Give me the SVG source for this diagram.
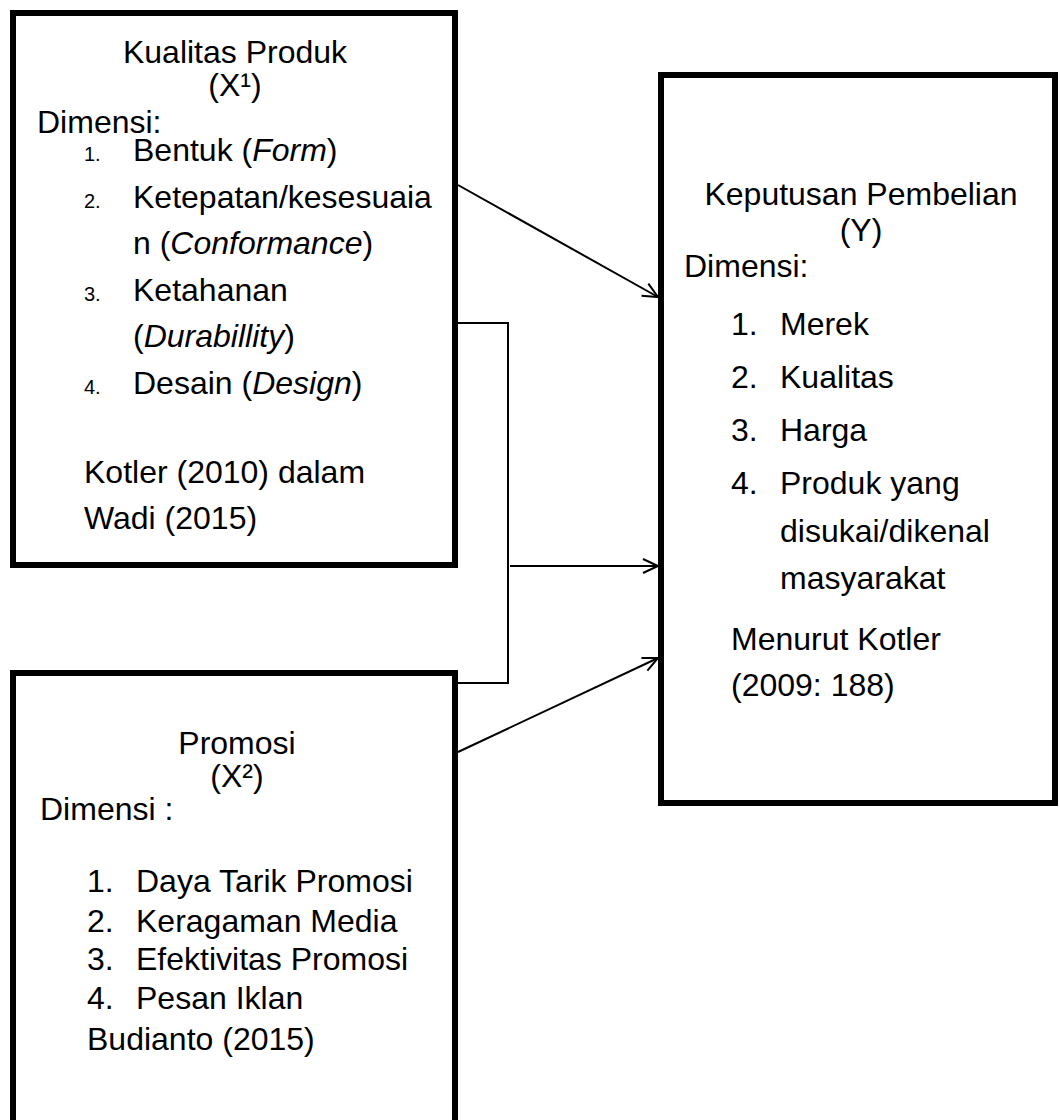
<svg xmlns="http://www.w3.org/2000/svg" width="1060" height="1120" viewBox="0 0 1060 1120">
<style>
text{font-family:"Liberation Sans",Arial,sans-serif;font-size:32px;fill:#000}
.c{text-anchor:middle}
.n{font-size:20px}
.box{fill:#fff;stroke:#000;stroke-width:6}
.ln{fill:none;stroke:#000;stroke-width:2}
</style>
<defs>
<marker id="ah" markerUnits="userSpaceOnUse" markerWidth="20" markerHeight="20" refX="16" refY="8" orient="auto">
<path d="M1,1 L16,8 L1,15" fill="none" stroke="#000" stroke-width="2"/>
</marker>
</defs>
<rect width="1060" height="1120" fill="#fff"/>
<g id="kualitas-produk">
<rect class="box" x="13" y="13" width="442" height="552"/>
<text class="c" x="235" y="63">Kualitas Produk</text>
<text class="c" x="235" y="96">(X¹)</text>
<text x="37" y="133">Dimensi:</text>
<text class="n" x="84" y="161">1.</text><text x="133" y="161">Bentuk (<tspan font-style="italic">Form</tspan>)</text>
<text class="n" x="84" y="208">2.</text><text x="133" y="208">Ketepatan/kesesuaia</text>
<text x="133" y="254">n (<tspan font-style="italic">Conformance</tspan>)</text>
<text class="n" x="84" y="301">3.</text><text x="133" y="301">Ketahanan</text>
<text x="133" y="347">(<tspan font-style="italic">Durabillity</tspan>)</text>
<text class="n" x="84" y="394">4.</text><text x="133" y="394">Desain (<tspan font-style="italic">Design</tspan>)</text>
<text x="84" y="483">Kotler (2010) dalam</text>
<text x="84" y="529">Wadi (2015)</text>
</g>
<g id="promosi">
<rect class="box" x="13" y="673" width="442" height="460"/>
<text class="c" x="237" y="754">Promosi</text>
<text class="c" x="237" y="787">(X²)</text>
<text x="40" y="820">Dimensi :</text>
<text x="87" y="892">1.</text><text x="136" y="892">Daya Tarik Promosi</text>
<text x="87" y="932">2.</text><text x="136" y="932">Keragaman Media</text>
<text x="87" y="970">3.</text><text x="136" y="970">Efektivitas Promosi</text>
<text x="87" y="1009">4.</text><text x="136" y="1009">Pesan Iklan</text>
<text x="87" y="1050">Budianto (2015)</text>
</g>
<g id="keputusan-pembelian">
<rect class="box" x="661" y="75" width="394" height="728"/>
<text class="c" x="861" y="205">Keputusan Pembelian</text>
<text class="c" x="861" y="241">(Y)</text>
<text x="684" y="277">Dimensi:</text>
<text x="731" y="335">1.</text><text x="780" y="335">Merek</text>
<text x="731" y="388">2.</text><text x="780" y="388">Kualitas</text>
<text x="731" y="441">3.</text><text x="780" y="441">Harga</text>
<text x="731" y="494">4.</text><text x="780" y="494">Produk yang</text>
<text x="780" y="542">disukai/dikenal</text>
<text x="780" y="589">masyarakat</text>
<text x="731" y="650">Menurut Kotler</text>
<text x="731" y="696">(2009: 188)</text>
</g>
<g id="connectors">
<line class="ln" x1="458" y1="185" x2="658" y2="297" marker-end="url(#ah)"/>
<polyline class="ln" points="458,323 508,323 508,683 458,683"/>
<line class="ln" x1="510" y1="566" x2="658" y2="566" marker-end="url(#ah)"/>
<line class="ln" x1="458" y1="752" x2="658" y2="658" marker-end="url(#ah)"/>
</g>
</svg>
